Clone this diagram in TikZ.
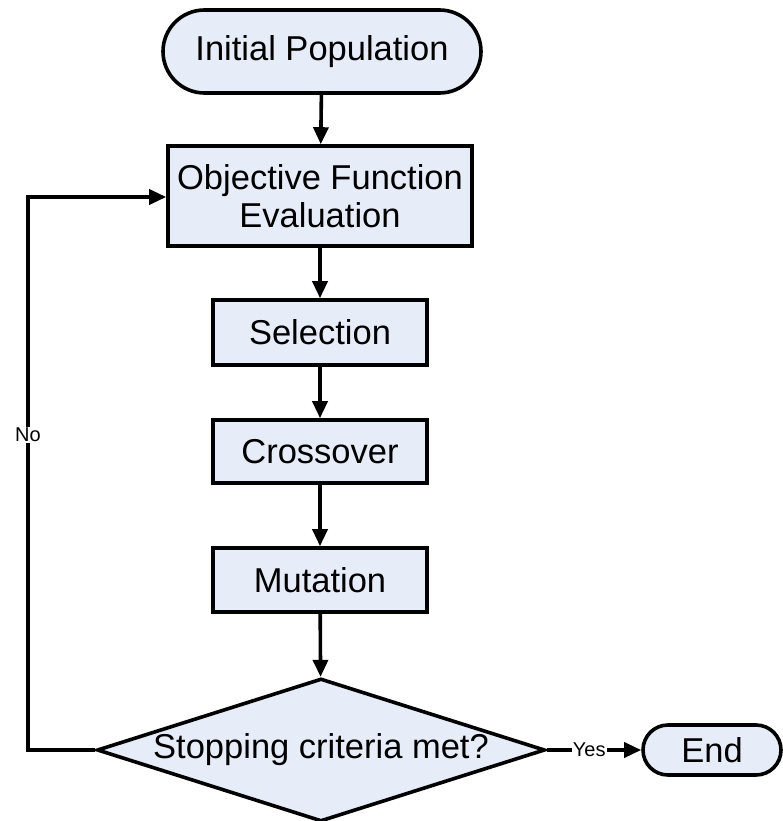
\documentclass[tikz,border=0pt]{standalone}
\usepackage{fontspec}
\setmainfont{Liberation Sans}
\usetikzlibrary{shapes.misc,shapes.geometric,arrows.meta}
\definecolor{boxfill}{RGB}{230,236,248}
\tikzset{
  basebox/.style={draw=black, line width=3.6pt, fill=boxfill, inner sep=0pt,
    font=\fontsize{34.5}{38}\selectfont, align=center},
  procbox/.style={basebox, rectangle},
  termbox/.style={basebox, rounded rectangle},
  decbox/.style={basebox, diamond, aspect=3.13},
  flow/.style={line width=3.6pt, -{Triangle[length=17pt,width=15pt]}},
  edgelabel/.style={fill=white, inner sep=1pt, font=\fontsize{20}{22}\selectfont}
}
\begin{document}
\begin{tikzpicture}[x=1pt,y=-1pt]
  \useasboundingbox (0,0) rectangle (783,821);

  \node[termbox, minimum width=318pt, minimum height=83pt] (init) at (322,51.5) {Initial Population};
  \node[procbox, minimum width=304pt, minimum height=100pt] (obj) at (320,196) {Objective Function\\Evaluation};
  \node[procbox, minimum width=214pt, minimum height=65pt] (sel) at (320,332.5) {Selection};
  \node[procbox, minimum width=214pt, minimum height=63pt] (cross) at (320,451.5) {Crossover};
  \node[procbox, minimum width=214pt, minimum height=64pt] (mut) at (320,580) {Mutation};
  \node[decbox, minimum width=448pt, minimum height=143pt] (stop) at (321,750) {Stopping criteria met?};
  \node[termbox, minimum width=138pt, minimum height=50pt] (end) at (712,750) {End};

  \draw[flow] (init) -- (obj);
  \draw[flow] (obj) -- (sel);
  \draw[flow] (sel) -- (cross);
  \draw[flow] (cross) -- (mut);
  \draw[flow] (mut) -- (stop);

  % "No" branch loops back to the evaluation step
  \coordinate (loopbot) at (28,750);
  \coordinate (looptop) at (28,197);
  \draw[flow] (stop.west) -- (loopbot) -- node[edgelabel, pos=0.57] {No} (looptop) -- (obj.west |- looptop);

  % "Yes" branch ends the run
  \draw[flow] (stop.east) -- node[edgelabel, pos=0.45] {Yes} (end.west);
\end{tikzpicture}
\end{document}
